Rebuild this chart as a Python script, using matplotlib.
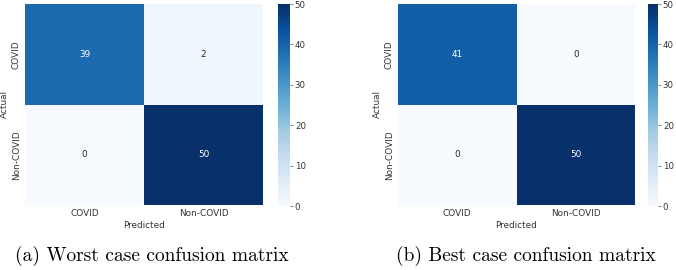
import matplotlib
matplotlib.use("Agg")
import matplotlib.pyplot as plt
import seaborn as sns
import numpy as np

labels = ["COVID", "Non-COVID"]
worst = [[39, 2], [0, 50]]
best = [[41, 0], [0, 50]]
captions = ["(a) Worst case confusion matrix", "(b) Best case confusion matrix"]
cbar_ticks = [0, 10, 20, 30, 40, 50]

W, H = 676, 270
fig = plt.figure(figsize=(W / 100, H / 100), dpi=100)

def box(x0, y0, x1, y1):
    return [x0 / W, 1 - y1 / H, (x1 - x0) / W, (y1 - y0) / H]

panels = [
    (worst, box(25, 4, 263, 205), box(278, 4, 290, 206), 152),
    (best, box(398, 4, 635, 205), box(648, 4, 658, 206), 526),
]
fs = 6.4
for (data, axb, cb, cx), cap in zip(panels, captions):
    ax = fig.add_axes(axb)
    cax = fig.add_axes(cb)
    sns.heatmap(np.array(data), annot=True, fmt="d", cmap="Blues", vmin=0, vmax=50,
                ax=ax, cbar_ax=cax, xticklabels=labels, yticklabels=labels,
                annot_kws={"fontsize": fs})
    ax.set_xlabel("Predicted", fontsize=fs, labelpad=2, color="#333333")
    ax.set_ylabel("Actual", fontsize=fs, labelpad=2, color="#333333")
    ax.tick_params(axis="both", labelsize=fs, length=0, pad=3, labelcolor="#333333")
    ax.set_yticklabels(labels, rotation=90, va="center")
    cax.set_yticks(cbar_ticks)
    cax.tick_params(labelsize=6.2, length=2.5, width=0.5, pad=1.0, colors="#555555")
    for t in cax.get_yticklabels():
        t.set_color("#333333")
    fig.text(cx / W, 1 - 256 / H, cap, ha="center", va="center",
             fontfamily="cmr10", fontsize=14)

fig.savefig("out.png", dpi=100)
